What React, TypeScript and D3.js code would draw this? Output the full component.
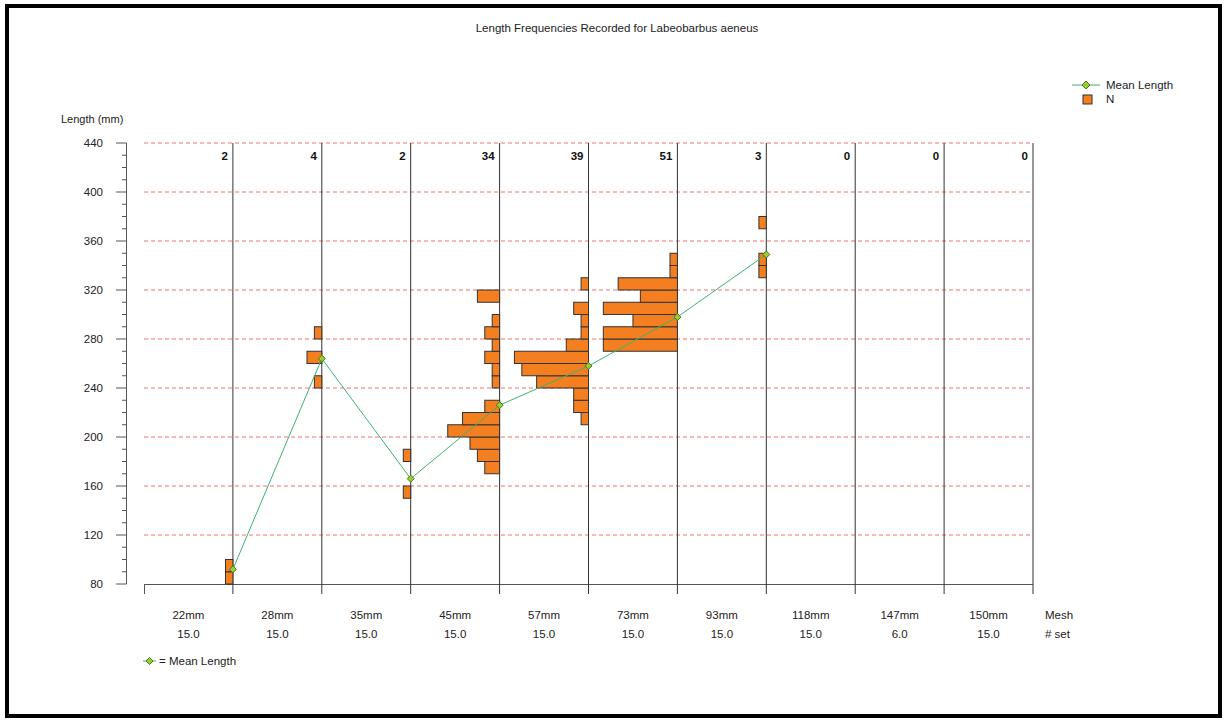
import React from "react";
import * as d3 from "d3";

const meshLabels = ["22mm", "28mm", "35mm", "45mm", "57mm", "73mm", "93mm", "118mm", "147mm", "150mm"];
const setLabels = ["15.0", "15.0", "15.0", "15.0", "15.0", "15.0", "15.0", "15.0", "6.0", "15.0"];
const counts = [2, 4, 2, 34, 39, 51, 3, 0, 0, 0];
const meanLengths: (number | null)[] = [92, 264, 166, 226, 258, 298, 349, null, null, null];
// [bin start (mm), count] per mesh panel, bin width 10 mm
const bins22: [number, number][] = [[80, 1], [90, 1]];
const bins28: [number, number][] = [[240, 1], [260, 2], [280, 1]];
const bins35: [number, number][] = [[150, 1], [180, 1]];
const bins45: [number, number][] = [[170, 2], [180, 3], [190, 4], [200, 7], [210, 5], [220, 2], [240, 1], [250, 1], [260, 2], [270, 1], [280, 2], [290, 1], [310, 3]];
const bins57: [number, number][] = [[210, 1], [220, 2], [230, 2], [240, 7], [250, 9], [260, 10], [270, 3], [280, 1], [290, 1], [300, 2], [320, 1]];
const bins73: [number, number][] = [[270, 10], [280, 10], [290, 6], [300, 10], [310, 5], [320, 8], [330, 1], [340, 1]];
const bins93: [number, number][] = [[330, 1], [340, 1], [370, 1]];
const panelBins = [bins22, bins28, bins35, bins45, bins57, bins73, bins93, [], [], []];
const yTicks = [80, 120, 160, 200, 240, 280, 320, 360, 400, 440];
const binWidth = 10;

const FONT = "'Liberation Sans', Arial, sans-serif";

export default function App() {
  const y = d3.scaleLinear().domain([80, 440]).range([584, 143]);
  const px = d3.scaleLinear().domain([0, 10]).range([144, 1033]);
  const pw = px(1) - px(0);
  const cx = d3.scaleLinear().domain([0, 12]).range([0, pw]);
  const minorTicks = d3.range(80, 441, 10);
  const meanPts = meanLengths
    .map((m, i) => (m == null ? null : [px(i + 1), y(m)] as [number, number]))
    .filter((p) => p !== null) as [number, number][];
  const line = d3.line();
  const diamond = (x: number, yy: number, r = 3.5) =>
    `M${x},${yy - r}L${x + r},${yy}L${x},${yy + r}L${x - r},${yy}Z`;

  return (
    <svg width={1226} height={720} style={{ position: "absolute", left: 0, top: 0, background: "#fff" }} fontFamily={FONT}>
      <rect x={7} y={6} width={1213} height={710} fill="#fff" stroke="#000" strokeWidth={4} />
      <text x={617} y={32} textAnchor="middle" fontSize={11.5} fill="#222">
        Length Frequencies Recorded for Labeobarbus aeneus
      </text>
      {/* legend */}
      <line x1={1072} x2={1100} y1={85} y2={85} stroke="#3cb371" strokeWidth={1} />
      <path d={diamond(1086, 85, 4)} fill="#9acd32" stroke="#4a7a1a" strokeWidth={1} />
      <text x={1106} y={89} fontSize={11.5} fill="#222">Mean Length</text>
      <rect x={1083} y={95} width={9} height={9} fill="#f47f20" stroke="#333" strokeWidth={1} />
      <text x={1106} y={103} fontSize={11.5} fill="#222">N</text>

      <text x={61} y={123} fontSize={11} fill="#222">Length (mm)</text>

      {/* grid */}
      {yTicks.filter((t) => t > 80).map((t) => (
        <line key={"g" + t} x1={144} x2={1033} y1={y(t)} y2={y(t)} stroke="#f07070" strokeWidth={1} strokeDasharray="4,3" />
      ))}
      {/* y axis */}
      <line x1={126.5} x2={126.5} y1={y(440)} y2={y(80)} stroke="#555" />
      {minorTicks.map((t) => (
        <line key={"m" + t} x1={t % 40 === 0 ? 116 : 122} x2={126.5} y1={y(t)} y2={y(t)} stroke="#555" />
      ))}
      {yTicks.map((t) => (
        <text key={"yl" + t} x={103} y={y(t) + 4} textAnchor="end" fontSize={11.5} fill="#222">{t}</text>
      ))}
      {/* x axis */}
      <line x1={144} x2={1033} y1={584.5} y2={584.5} stroke="#555" />
      <line x1={144.5} x2={144.5} y1={584} y2={594} stroke="#555" />
      {d3.range(1, 11).map((i) => (
        <line key={"v" + i} x1={px(i)} x2={px(i)} y1={y(440)} y2={594} stroke="#333" strokeWidth={1} />
      ))}
      {/* bars */}
      {panelBins.map((bins, i) =>
        bins.map(([b, c]) => (
          <rect key={`b${i}-${b}`} x={px(i + 1) - cx(c)} y={y(b + binWidth)} width={cx(c)} height={y(b) - y(b + binWidth)}
            fill="#f47f20" stroke="#333" strokeWidth={1} />
        ))
      )}
      {/* counts */}
      {counts.map((c, i) => (
        <text key={"c" + i} x={px(i + 1) - 5} y={160} textAnchor="end" fontSize={11.5} fontWeight="bold" fill="#111">{c}</text>
      ))}
      {/* mean line */}
      <path d={line(meanPts) || ""} fill="none" stroke="#3cb371" strokeWidth={1} />
      {meanPts.map(([mx, my], i) => (
        <path key={"d" + i} d={diamond(mx, my)} fill="#9acd32" stroke="#4a7a1a" strokeWidth={1} />
      ))}
      {/* bottom labels */}
      {meshLabels.map((m, i) => (
        <text key={"ml" + i} x={(px(i) + px(i + 1)) / 2} y={619} textAnchor="middle" fontSize={11.5} fill="#222">{m}</text>
      ))}
      {setLabels.map((s, i) => (
        <text key={"sl" + i} x={(px(i) + px(i + 1)) / 2} y={638} textAnchor="middle" fontSize={11.5} fill="#222">{s}</text>
      ))}
      <text x={1045} y={619} fontSize={11.5} fill="#222">Mesh</text>
      <text x={1045} y={638} fontSize={11.5} fill="#222"># set</text>
      <line x1={143} x2={156} y1={661} y2={661} stroke="#3cb371" />
      <path d={diamond(149.5, 661, 3.5)} fill="#9acd32" stroke="#4a7a1a" strokeWidth={1} />
      <text x={159} y={665} fontSize={11.5} fill="#222">= Mean Length</text>
    </svg>
  );
}
